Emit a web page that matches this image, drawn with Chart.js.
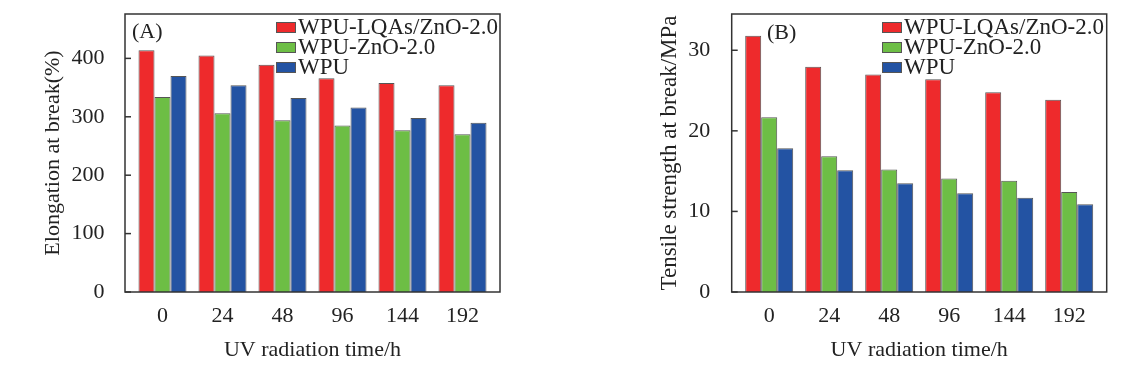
<!DOCTYPE html>
<html><head><meta charset="utf-8">
<script src="https://cdn.jsdelivr.net/npm/chart.js@4.4.1/dist/chart.umd.min.js"></script>
<style>
html,body{margin:0;padding:0;background:#fff;width:1147px;height:378px;overflow:hidden;font-family:"Liberation Serif","Times New Roman",serif;}
.panel{position:absolute;top:0;height:378px;}
.lab{position:absolute;font-size:22px;color:#222;line-height:22px;white-space:nowrap;}
.legend{position:absolute;font-size:23px;color:#222;}
.row{display:flex;align-items:center;height:20px;line-height:20px;white-space:nowrap;}
.sw{width:20px;height:11px;box-sizing:border-box;border:1px solid #555;margin-right:2px;flex:none;}
</style></head>
<body>
<div class="panel" style="left:0;width:560px;"><canvas id="cA" width="560" height="378"></canvas></div>
<div class="panel" style="left:580px;width:567px;"><canvas id="cB" width="567" height="378"></canvas></div>
<div class="lab" style="left:132px;top:20px;">(A)</div>
<div class="lab" style="left:767px;top:21px;">(B)</div>
<div class="legend" id="legA" style="left:276px;top:17px;"></div>
<div class="legend" id="legB" style="left:882px;top:17px;"></div>
<script>
const categories = ['0', '24', '48', '96', '144', '192'];
const seriesNames = ['WPU-LQAs/ZnO-2.0', 'WPU-ZnO-2.0', 'WPU'];
const seriesColors = ['#EE2A2C', '#6DBE45', '#2353A3'];

const elongLQA = [414, 405, 389, 366, 358, 354];
const elongZnO = [334, 306, 294, 285, 277, 270];
const elongWPU = [370, 354, 332, 316, 298, 290];

const tensLQA = [31.8, 27.95, 27.0, 26.4, 24.8, 23.85];
const tensZnO = [21.7, 16.85, 15.2, 14.1, 13.8, 12.4];
const tensWPU = [17.85, 15.1, 13.5, 12.25, 11.7, 10.9];

const yTicksA = [0, 100, 200, 300, 400];
const yTicksB = [0, 10, 20, 30];

const xTitle = 'UV radiation time/h';
const yTitleA = 'Elongation at break(%)';
const yTitleB = 'Tensile strength at break/MPa';

Chart.defaults.font.family = "'Liberation Serif','Times New Roman',serif";
Chart.defaults.color = '#222';

const framePlugin = {
  id: 'frame',
  afterDatasetsDraw(chart, args, o) {
    const {ctx, chartArea: a, scales: {y}} = chart;
    const l = a.left - o.pad, r = a.right + o.pad;
    ctx.save();
    ctx.strokeStyle = '#333';
    ctx.lineWidth = 1.5;
    ctx.strokeRect(l, a.top, r - l, a.bottom - a.top);
    y.ticks.forEach(t => {
      const py = y.getPixelForValue(t.value);
      ctx.beginPath(); ctx.moveTo(l, py); ctx.lineTo(l + 6, py); ctx.stroke();
    });
    ctx.restore();
  }
};

function makeChart(id, data, yMax, yTicks, yTitle, yWidth, padRight, tickPad, titlePad, titleSize) {
  return new Chart(document.getElementById(id), {
    type: 'bar',
    data: {
      labels: categories,
      datasets: data.map((d, i) => ({
        label: seriesNames[i],
        data: d,
        backgroundColor: seriesColors[i],
        borderColor: '#555',
        borderWidth: 1,
        categoryPercentage: 0.8,
        barPercentage: 1.0
      }))
    },
    options: {
      responsive: false,
      animation: false,
      layout: {padding: {left: 0, top: 14, right: padRight, bottom: 0}},
      plugins: {legend: {display: false}, tooltip: {enabled: false}, frame: {pad: 7.5}},
      scales: {
        x: {
          grid: {display: false}, border: {display: false},
          ticks: {font: {size: 22}, color: '#222', padding: 3, maxRotation: 0},
          title: {display: true, text: xTitle, font: {size: 22}, color: '#222', padding: {top: 0, bottom: 15}},
          afterFit: s => { s.height = 86; s.paddingLeft = 0; s.paddingRight = 0; }
        },
        y: {
          min: 0, max: yMax,
          grid: {display: false}, border: {display: false},
          ticks: {font: {size: 22}, color: '#222', padding: tickPad},
          afterBuildTicks: s => { s.ticks = yTicks.map(v => ({value: v})); },
          title: {display: true, text: yTitle, font: {size: titleSize}, color: '#222', padding: {top: titlePad, bottom: 0}},
          afterFit: s => { s.width = yWidth; s.paddingTop = 0; s.paddingBottom = 0; }
        }
      }
    },
    plugins: [framePlugin]
  });
}

makeChart('cA', [elongLQA, elongZnO, elongWPU], 476, yTicksA, yTitleA, 132.5, 67.5, 20, 40, 22);
makeChart('cB', [tensLQA, tensZnO, tensWPU], 34.5, yTicksB, yTitleB, 159.2, 47.8, 21, 76, 23);

function buildLegend(elId) {
  const el = document.getElementById(elId);
  seriesNames.forEach((n, i) => {
    const row = document.createElement('div');
    row.className = 'row';
    const sw = document.createElement('span');
    sw.className = 'sw';
    sw.style.background = seriesColors[i];
    const tx = document.createElement('span');
    tx.textContent = n;
    row.appendChild(sw); row.appendChild(tx);
    el.appendChild(row);
  });
}
buildLegend('legA');
buildLegend('legB');
</script>
</body></html>
